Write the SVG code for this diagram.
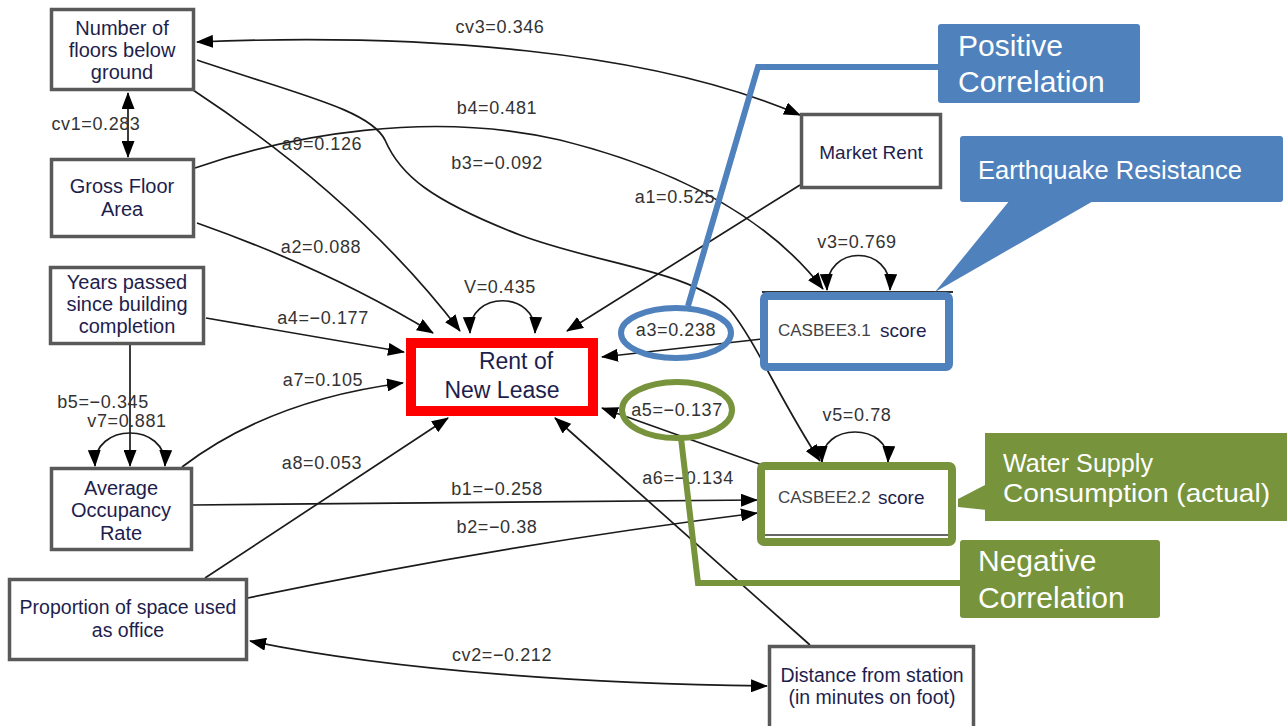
<svg xmlns="http://www.w3.org/2000/svg" width="1287" height="726" viewBox="0 0 1287 726">
<defs>
<marker id="ah" viewBox="0 0 17 13" refX="16" refY="6.5" markerWidth="17" markerHeight="13" markerUnits="userSpaceOnUse" orient="auto-start-reverse">
<path d="M0,0 L17,6.5 L0,13 z" fill="#000"/>
</marker>
<style>
.e{fill:none;stroke:#1a1a1a;stroke-width:1.7}
.a{marker-end:url(#ah)}
.b{marker-start:url(#ah);marker-end:url(#ah)}
.box{fill:#fff;stroke:#595959;stroke-width:3.5}
.nt{font-family:"Liberation Sans",Arial,sans-serif;font-size:20px;fill:#1e1e4e;text-anchor:middle}
.el{font-family:"Liberation Sans",Arial,sans-serif;font-size:18px;fill:#333;text-anchor:middle;letter-spacing:0.6px}
.ct{font-family:"Liberation Sans",Arial,sans-serif;fill:#fff}
.blue{fill:#4f81bd}
.green{fill:#77933c}
</style>
</defs>
<rect width="1287" height="726" fill="#fff"/>

<g id="connectors">
<path class="e b" d="M197 42 C 420 33, 650 50, 800 115"/>
<path class="e b" d="M128 93 L128 157"/>
<path class="e a" d="M197 60 C 300 95, 370 110, 385 140 C 400 175, 430 200, 520 235 C 600 265, 690 270, 730 310 C 755 340, 780 400, 820 461"/>
<path class="e a" d="M195 168 C 290 135, 430 110, 560 140 C 680 170, 770 220, 823 289"/>
<path class="e a" d="M193 90 Q 360 200, 460 331"/>
<path class="e a" d="M197 223 Q 330 270, 433 333"/>
<path class="e a" d="M206 318 L404 352"/>
<path class="e a" d="M130 345 L130 466"/>
<path class="e b" d="M95 466 C 93 422, 167 422, 165 466"/>
<path class="e a" d="M182 467 Q 270 400, 403 383"/>
<path class="e a" d="M193 505 L757 500"/>
<path class="e a" d="M205 578 L448 418"/>
<path class="e a" d="M248 598 Q 500 545, 757 513"/>
<path class="e b" d="M250 641 C 400 672, 600 684, 767 686"/>
<path class="e a" d="M810 645 L555 418"/>
<path class="e a" d="M762 465 L602 408"/>
<path class="e a" d="M762 339 L602 357"/>
<path class="e a" d="M800 185 L567 331"/>
<path class="e b" d="M470 333 C 468 290, 537 290, 535 333"/>
<path class="e b" d="M827 290 C 825 244, 892 244, 890 290"/>
<path class="e b" d="M822 462 C 820 422, 890 422, 888 462"/>

<text class="el" x="500" y="33">cv3=0.346</text>
<text class="el" x="96" y="130">cv1=0.283</text>
<text class="el" x="497" y="114">b4=0.481</text>
<text class="el" x="497" y="169">b3=−0.092</text>
<text class="el" x="322" y="150">a9=0.126</text>
<text class="el" x="321" y="253">a2=0.088</text>
<text class="el" x="500" y="293">V=0.435</text>
<text class="el" x="675" y="203">a1=0.525</text>
<text class="el" x="857" y="248">v3=0.769</text>
<text class="el" x="323" y="324">a4=−0.177</text>
<text class="el" x="676" y="336">a3=0.238</text>
<text class="el" x="323" y="386">a7=0.105</text>
<text class="el" x="103" y="408">b5=−0.345</text>
<text class="el" x="127" y="427">v7=0.881</text>
<text class="el" x="677" y="416">a5=−0.137</text>
<text class="el" x="857" y="421">v5=0.78</text>
<text class="el" x="322" y="469">a8=0.053</text>
<text class="el" x="688" y="484">a6=−0.134</text>
<text class="el" x="497" y="495">b1=−0.258</text>
<text class="el" x="497" y="533">b2=−0.38</text>
<text class="el" x="502" y="661">cv2=−0.212</text>
</g>

<g id="n_floors">
<rect class="box" x="51.5" y="9.5" width="142" height="80"/>
<text class="nt" x="122" y="35">Number of</text>
<text class="nt" x="122" y="57">floors below</text>
<text class="nt" x="122" y="79">ground</text>
</g>
<g id="n_gfa">
<rect class="box" x="51.5" y="159.5" width="142" height="77"/>
<text class="nt" x="122" y="193">Gross Floor</text>
<text class="nt" x="122" y="216">Area</text>
</g>
<g id="n_years">
<rect class="box" x="50.5" y="267.5" width="153" height="76"/>
<text class="nt" x="127" y="289">Years passed</text>
<text class="nt" x="127" y="311">since building</text>
<text class="nt" x="127" y="333">completion</text>
</g>
<g id="n_occ">
<rect class="box" x="51.5" y="468.5" width="140" height="81"/>
<text class="nt" x="121" y="495">Average</text>
<text class="nt" x="121" y="517">Occupancy</text>
<text class="nt" x="121" y="540">Rate</text>
</g>
<g id="n_prop">
<rect class="box" x="9.5" y="579.5" width="237" height="80"/>
<text class="nt" x="128" y="614" style="font-size:19.5px">Proportion of space used</text>
<text class="nt" x="128" y="637" style="font-size:19.5px">as office</text>
</g>
<g id="n_rent">
<rect x="411" y="343" width="182" height="68" fill="#fff" stroke="#ff0000" stroke-width="10"/>
<text class="nt" x="516" y="369" style="font-size:23px">Rent of</text>
<text class="nt" x="502" y="398" style="font-size:23px">New Lease</text>
</g>
<g id="n_market">
<rect class="box" x="801.5" y="114.5" width="139" height="73"/>
<text class="nt" x="871" y="159" style="font-size:19px">Market Rent</text>
</g>
<g id="n_casbee31">
<line x1="762" y1="292" x2="953" y2="292" stroke="#333" stroke-width="2"/>
<rect x="764" y="296" width="185" height="71" rx="3" fill="#fff" stroke="#4f81bd" stroke-width="8"/>
<text x="778" y="336" font-family="Liberation Sans, Arial, sans-serif" font-size="17" fill="#444">CASBEE3.1</text>
<text x="880" y="337" font-family="Liberation Sans, Arial, sans-serif" font-size="19" fill="#1e1e4e">score</text>
</g>
<g id="n_casbee22">
<rect x="761" y="466" width="191" height="76" rx="3" fill="#fff" stroke="#77933c" stroke-width="8"/>
<line x1="765" y1="535" x2="948" y2="535" stroke="#666" stroke-width="2"/>
<text x="778" y="503" font-family="Liberation Sans, Arial, sans-serif" font-size="17" fill="#444">CASBEE2.2</text>
<text x="878" y="504" font-family="Liberation Sans, Arial, sans-serif" font-size="19" fill="#1e1e4e">score</text>
</g>
<g id="n_distance">
<rect class="box" x="769.5" y="646.5" width="204" height="84"/>
<text class="nt" x="872" y="682" style="font-size:19.5px">Distance from station</text>
<text class="nt" x="872" y="704" style="font-size:19.5px">(in minutes on foot)</text>
</g>

<g id="callout_positive">
<ellipse cx="676" cy="333" rx="55" ry="25" fill="none" stroke="#4f81bd" stroke-width="6"/>
<polyline points="688,306 758,67 938,67" fill="none" stroke="#4f81bd" stroke-width="6"/>
<rect class="blue" x="938" y="24" width="202" height="79" rx="3"/>
<text class="ct" x="958" y="56" font-size="30">Positive</text>
<text class="ct" x="958" y="92" font-size="30">Correlation</text>
</g>
<g id="callout_earthquake">
<polygon class="blue" points="1010,200 1095,200 935,292"/>
<rect class="blue" x="960" y="136" width="323" height="66" rx="3"/>
<text class="ct" x="978" y="179" font-size="25" textLength="264" lengthAdjust="spacingAndGlyphs">Earthquake Resistance</text>
</g>
<g id="callout_water">
<polygon class="green" points="987,484 958,499 958,507 987,510"/>
<rect class="green" x="985" y="433" width="302" height="88"/>
<text class="ct" x="1003" y="472" font-size="25" textLength="150" lengthAdjust="spacingAndGlyphs">Water Supply</text>
<text class="ct" x="1003" y="502" font-size="25" textLength="267" lengthAdjust="spacingAndGlyphs">Consumption (actual)</text>
</g>
<g id="callout_negative">
<ellipse cx="677" cy="410" rx="55" ry="28" fill="none" stroke="#77933c" stroke-width="6"/>
<polyline points="681,438 698,583 962,583" fill="none" stroke="#77933c" stroke-width="6"/>
<rect class="green" x="960" y="540" width="200" height="78" rx="3"/>
<text class="ct" x="978" y="571" font-size="30">Negative</text>
<text class="ct" x="978" y="608" font-size="30">Correlation</text>
</g>
</svg>
